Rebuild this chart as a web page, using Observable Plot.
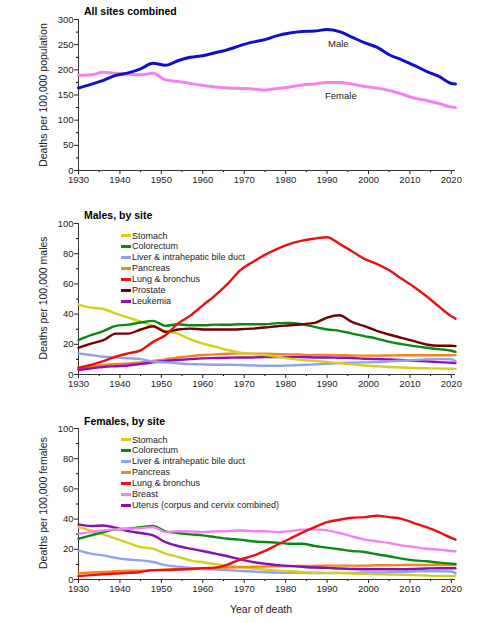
<!DOCTYPE html>
<html>
<head>
<meta charset="utf-8">
<script src="https://cdn.jsdelivr.net/npm/d3@7"></script>
<script src="https://cdn.jsdelivr.net/npm/@observablehq/plot@0.6"></script>
<style>
  body { margin:0; background:#fff; font-family:"Liberation Sans", Arial, sans-serif; }
  #root { position:relative; width:504px; height:623px; overflow:hidden; }
  .panel { position:absolute; left:0; }
  .title { position:absolute; font-weight:bold; font-size:10.5px; color:#000; white-space:nowrap; }
  .ylab { position:absolute; font-size:10.5px; color:#222; white-space:nowrap; transform:translate(-50%,-50%) rotate(-90deg); }
  .note { position:absolute; font-size:9.5px; color:#222; white-space:nowrap; }
  .legend { position:absolute; font-size:9px; color:#222; }
  .legend div { height:10.9px; line-height:10.9px; white-space:nowrap; display:flex; align-items:center; }
  .legend span.sw { display:inline-block; width:10px; height:3px; margin-right:1px; }
</style>
</head>
<body>
<div id="root"></div>
<script>
// ---------- data ----------
const years = [1930,1933,1936,1939,1942,1945,1948,1951,1954,1957,1960,1963,1966,1969,1972,1975,1978,1981,1984,1987,1990,1993,1996,1999,2002,2005,2008,2011,2014,2017,2020,2021];

// All sites combined
const allMale   = [164,171,179,189,194,202,213,209,218,225,228,234,240,248,255,260,268,273,276,277,280,276,265,254,245,230,220,209,197,187,173,172];
const allFemale = [189,190,195,193,191,190,193,180,177,173,169,166,164,163,162,160,163,166,170,172,175,175,172,167,164,159,152,144,139,133,126,125];

// Males, by site
const mStomach    = [46.3,44.3,43.4,40.3,37.7,35.0,32.0,28.9,27.0,23.2,20.5,18.4,16.2,14.4,13.5,12.9,11.8,10.5,9.6,9.0,8.3,7.5,6.8,6.0,5.5,5.0,4.6,4.3,4.1,3.9,3.8,3.7];
const mColorectum = [22.7,26.0,28.7,32.2,33.0,34.4,35.5,32.2,33.3,32.6,32.6,33.0,32.9,33.3,33.3,33.3,34.0,34.2,33.3,31.5,29.8,28.9,27.1,25.4,23.8,21.6,20.1,18.8,17.7,16.8,15.7,15.0];
const mLiver      = [14.0,12.9,11.8,11.3,10.7,10.2,8.5,8.0,7.4,6.9,6.7,6.5,6.5,6.3,6.0,5.8,5.8,6.0,6.3,6.7,7.1,7.6,7.8,8.0,8.2,8.7,9.1,9.6,10.0,10.2,10.0,8.9];
const mPancreas   = [4.0,5.2,6.3,7.0,7.4,8.0,8.9,10.0,11.3,12.2,12.9,13.3,13.7,14.0,13.7,13.7,13.5,13.3,13.1,12.9,12.9,12.8,12.6,12.5,12.5,12.6,12.7,12.7,12.7,12.7,12.8,12.8];
const mLung       = [4.5,6.3,8.9,11.8,14.0,16.0,21.6,26.0,33.7,39.0,45.8,52.4,60.0,69.0,74.4,79.2,83.2,86.5,88.7,90.0,90.9,86.5,81.6,76.6,73.3,69.0,63.4,58.0,51.8,45.0,38.6,37.0];
const mProstate   = [17.7,20.5,22.7,27.1,27.1,29.8,32.0,28.2,29.8,30.4,29.8,29.8,29.8,30.0,30.4,31.1,32.0,32.6,33.3,34.2,37.7,39.2,34.8,32.0,28.9,26.5,24.3,22.1,19.9,19.0,19.0,18.8];
const mLeukemia   = [3.0,4.0,5.0,5.5,6.0,7.0,8.0,8.9,9.6,10.2,10.7,10.9,11.1,11.3,11.3,11.5,11.5,11.5,11.5,11.3,11.3,11.1,10.9,10.4,10.2,10.0,9.6,9.1,8.7,8.2,7.8,7.6];

// Females, by site
const fStomach    = [34.7,32.5,29.9,27.0,24.2,21.5,20.4,17.1,15.0,12.7,11.4,10.1,9.2,8.4,7.3,6.6,5.9,5.5,5.0,4.6,4.4,4.2,4.0,3.7,3.5,3.3,3.1,2.9,2.6,2.4,2.4,2.4];
const fColorectum = [27.0,29.2,31.4,33.2,33.6,34.7,35.4,31.9,30.8,29.9,29.2,28.1,27.0,26.4,25.3,24.8,24.4,23.7,23.7,22.2,21.1,20.0,18.9,18.2,16.7,15.4,13.8,12.7,12.1,11.2,10.5,10.3];
const fLiver      = [19.3,17.1,16.0,14.3,13.2,12.7,11.6,9.5,8.4,7.7,7.0,6.6,6.2,5.7,5.3,4.8,4.6,4.4,4.4,4.2,4.2,4.4,4.4,4.6,4.6,4.8,5.0,5.3,5.5,5.5,5.3,4.2];
const fPancreas   = [4.0,4.6,5.0,5.5,5.7,5.9,6.2,6.6,6.8,7.0,7.3,7.7,7.9,8.1,8.4,8.6,8.8,8.8,9.0,9.0,9.2,9.2,9.2,9.2,9.4,9.4,9.6,9.6,9.6,9.6,9.6,9.6];
const fLung       = [2.2,2.9,3.5,4.0,4.4,5.0,6.2,6.2,6.6,7.0,7.5,7.9,9.9,13.2,15.6,18.9,23.0,27.0,31.0,34.7,38.0,39.6,40.9,41.3,42.2,41.3,40.2,37.4,34.7,31.4,27.5,26.4];
const fBreast     = [30.3,31.4,32.5,33.2,33.6,34.0,34.7,31.4,32.0,31.9,31.4,31.9,32.0,32.5,32.0,32.0,31.4,32.0,33.0,33.2,32.5,30.8,28.6,26.4,25.3,24.2,22.6,21.5,20.4,19.8,18.9,18.7];
const fUterus     = [36.5,35.4,35.8,34.3,32.0,30.8,29.2,24.8,22.2,20.4,18.9,17.1,15.4,13.4,11.6,10.5,9.5,9.0,8.4,7.9,7.7,7.3,7.0,6.8,6.8,6.8,6.8,7.0,7.3,7.5,7.5,7.5];

const xTicks = [1930,1940,1950,1960,1970,1980,1990,2000,2010,2020];
const xMinor = [1935,1945,1955,1965,1975,1985,1995,2005,2015];
const yTicksAll = [0,50,100,150,200,250,300];
const yMinorAll = [25,75,125,175,225,275];
const yTicksSite = [0,20,40,60,80,100];
const yMinorSite = [10,30,50,70,90];

const maleSites = ["Stomach","Colorectum","Liver & intrahepatic bile duct","Pancreas","Lung & bronchus","Prostate","Leukemia"];
const maleSeries = [mStomach,mColorectum,mLiver,mPancreas,mLung,mProstate,mLeukemia];
const maleColors = ["#d2d21e","#0a8a14","#8fa2f0","#f5831f","#e81212","#720000","#9010c0"];

const femaleSites = ["Stomach","Colorectum","Liver & intrahepatic bile duct","Pancreas","Lung & bronchus","Breast","Uterus (corpus and cervix combined)"];
const femaleSeries = [fStomach,fColorectum,fLiver,fPancreas,fLung,fBreast,fUterus];
const femaleColors = ["#d2d21e","#0a8a14","#8fa2f0","#f5831f","#e81212","#f282f0","#8412b4"];

// draw order (back to front)
const maleOrder = [3,6,2,0,1,5,4];
const femaleOrder = [2,0,3,6,1,5,4];

function toRows(names, series) {
  const rows = [];
  names.forEach((n, i) => years.forEach((y, j) => rows.push({site: n, year: y, value: series[i][j]})));
  return rows;
}

const root = document.getElementById("root");
const axisColor = "#333";

function axes(yTicks, yMinor) {
  return [
    Plot.axisX({ticks: xTicks, tickFormat: d => String(d), tickSize: 4, tickPadding: 2, label: null, fontSize: 9.5, color: "#222"}),
    Plot.axisX({ticks: xMinor, tickFormat: () => "", tickSize: 2, label: null}),
    Plot.axisY({ticks: yTicks, tickSize: 4, tickPadding: 1, label: null, fontSize: 9.5, color: "#222"}),
    Plot.axisY({ticks: yMinor, tickFormat: () => "", tickSize: 2, label: null}),
    Plot.ruleY([yTicks[0]], {stroke: axisColor, strokeWidth: 1}),
    Plot.ruleX([1930], {stroke: axisColor, strokeWidth: 1})
  ];
}

function place(el, top) {
  const d = document.createElement("div");
  d.className = "panel";
  d.style.top = top + "px";
  d.appendChild(el);
  root.appendChild(d);
}

function addDiv(cls, text, style) {
  const d = document.createElement("div");
  d.className = cls;
  d.textContent = text;
  Object.assign(d.style, style);
  root.appendChild(d);
  return d;
}

// ---------- Panel 1: all sites ----------
const allRows = years.flatMap((y, j) => [
  {sex: "Male", year: y, value: allMale[j]},
  {sex: "Female", year: y, value: allFemale[j]}
]);
const p1 = Plot.plot({
  width: 504, height: 190,
  marginLeft: 78, marginRight: 49, marginTop: 19, marginBottom: 20,
  style: {fontFamily: "Liberation Sans, Arial, sans-serif", background: "transparent", overflow: "visible"},
  x: {domain: [1930, 2021]},
  y: {domain: [0, 300]},
  color: {domain: ["Male", "Female"], range: ["#1010c8", "#f282f0"]},
  marks: [
    ...axes(yTicksAll, yMinorAll),
    Plot.line(allRows.filter(d => d.sex === "Female"), {x: "year", y: "value", stroke: "sex", strokeWidth: 3, curve: "monotone-x"}),
    Plot.line(allRows.filter(d => d.sex === "Male"), {x: "year", y: "value", stroke: "sex", strokeWidth: 3, curve: "monotone-x"})
  ]
});
place(p1, 0);

// ---------- Panel 2: males ----------
const maleRows = toRows(maleSites, maleSeries);
const p2 = Plot.plot({
  width: 504, height: 195,
  marginLeft: 78, marginRight: 49, marginTop: 23, marginBottom: 21,
  style: {fontFamily: "Liberation Sans, Arial, sans-serif", background: "transparent", overflow: "visible"},
  x: {domain: [1930, 2021]},
  y: {domain: [0, 100]},
  color: {domain: maleSites, range: maleColors},
  marks: [
    ...axes(yTicksSite, yMinorSite),
    ...maleOrder.map(i => Plot.line(maleRows.filter(d => d.site === maleSites[i]), {x: "year", y: "value", stroke: "site", strokeWidth: 2.4, curve: "monotone-x"}))
  ]
});
place(p2, 200);

// ---------- Panel 3: females ----------
const femaleRows = toRows(femaleSites, femaleSeries);
const p3 = Plot.plot({
  width: 504, height: 223,
  marginLeft: 78, marginRight: 49, marginTop: 28, marginBottom: 44,
  style: {fontFamily: "Liberation Sans, Arial, sans-serif", background: "transparent", overflow: "visible"},
  x: {domain: [1930, 2021]},
  y: {domain: [0, 100]},
  color: {domain: femaleSites, range: femaleColors},
  marks: [
    ...axes(yTicksSite, yMinorSite),
    ...femaleOrder.map(i => Plot.line(femaleRows.filter(d => d.site === femaleSites[i]), {x: "year", y: "value", stroke: "site", strokeWidth: 2.4, curve: "monotone-x"}))
  ]
});
place(p3, 400);

// ---------- text ----------
addDiv("title", "All sites combined", {left: "84px", top: "5px"});
addDiv("title", "Males, by site", {left: "84px", top: "209px"});
addDiv("title", "Females, by site", {left: "84px", top: "415px"});

addDiv("ylab", "Deaths per 100,000 population", {left: "43px", top: "95px"});
addDiv("ylab", "Deaths per 100,000 males", {left: "43px", top: "298px"});
addDiv("ylab", "Deaths per 100,000 females", {left: "43px", top: "503px"});

addDiv("note", "Male", {left: "328px", top: "38px"});
addDiv("note", "Female", {left: "325px", top: "90px"});

const xl = addDiv("ylab", "Year of death", {left: "261px", top: "609px"});
xl.style.transform = "translate(-50%,-50%)";

function legend(names, colors, top) {
  const lg = document.createElement("div");
  lg.className = "legend";
  lg.style.left = "121px";
  lg.style.top = top + "px";
  names.forEach((n, i) => {
    const row = document.createElement("div");
    const sw = document.createElement("span");
    sw.className = "sw";
    sw.style.background = colors[i];
    row.appendChild(sw);
    row.appendChild(document.createTextNode(n));
    lg.appendChild(row);
  });
  root.appendChild(lg);
}
legend(maleSites, maleColors, 230.5);
legend(femaleSites, femaleColors, 434.5);
</script>
</body>
</html>
